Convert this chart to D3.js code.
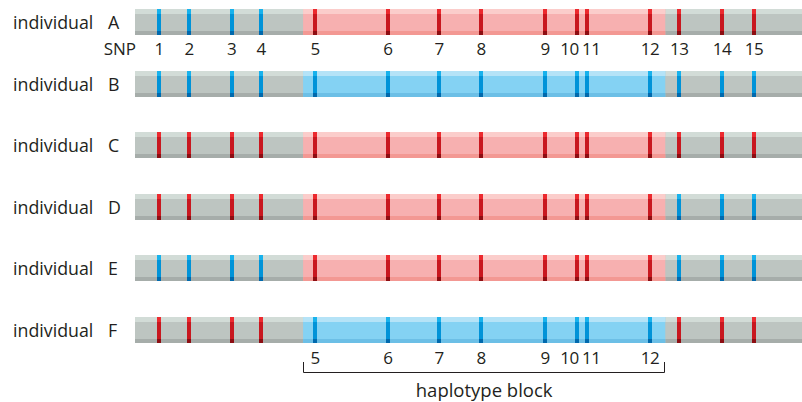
<!DOCTYPE html>
<html><head><meta charset="utf-8">
<script src="https://cdn.jsdelivr.net/npm/d3@7"></script>
<style>body{margin:0;background:#fff}svg{display:block}text{font-family:"Open Sans","Noto Sans",sans-serif;fill:#231f20}</style>
</head><body><svg id="c" width="802" height="402"></svg>
<script>
// chromosome coordinates (arbitrary units along the chromosome)
const snpNames = ["1","2","3","4","5","6","7","8","9","10","11","12","13","14","15"];
const snpPositions = [36, 81, 145, 189, 270, 379, 456, 519, 615, 662, 678, 772, 816, 880, 928];
const blockRange = [252, 795];
const blockSnps = ["5","6","7","8","9","10","11","12"];
const individuals = ["A","B","C","D","E","F"];
// allele per SNP: "b" = blue, "r" = red
const genotypes = [
  "bbbbrrrrrrrrrrr",
  "bbbbbbbbbbbbbbb",
  "rrrrrrrrrrrrrrr",
  "rrrrrrrrrrrrbbb",
  "bbbbrrrrrrrrbbb",
  "rrrrbbbbbbbbrrr"
];
const blockAllele = ["r","b","r","r","r","b"];

const svg = d3.select("#c");
const x = d3.scaleLinear().domain([0, 1000]).range([135, 802]);
const y = d3.scalePoint().domain(individuals).range([9, 317]);
const H = 26;
const FS = 17;

const pal = {
  grey: {top:"#d2dcd7", mid:"#bdc5c1", bot:"#a6adaa"},
  r: {top:"#fbcdcb", mid:"#f7b0b0", bot:"#f39893"},
  b: {top:"#b5e3f7", mid:"#84d2f3", bot:"#6cbfe6"}
};
const mark = {
  r: {top:"#ec2a2f", mid:"#c8171f", bot:"#8d0d12"},
  b: {top:"#18b2ec", mid:"#0093d8", bot:"#0069ad"}
};

function band(g, x0, x1, c){
  g.append("rect").attr("x",x0).attr("y",0).attr("width",x1-x0).attr("height",H).attr("fill",c.mid);
  g.append("rect").attr("x",x0).attr("y",0).attr("width",x1-x0).attr("height",5).attr("fill",c.top);
  g.append("rect").attr("x",x0).attr("y",H-4).attr("width",x1-x0).attr("height",4).attr("fill",c.bot);
}

individuals.forEach((ind, i) => {
  const g = svg.append("g").attr("transform", `translate(0,${Math.round(y(ind))})`);
  band(g, x(0), x(1000), pal.grey);
  band(g, x(blockRange[0]), x(blockRange[1]), pal[blockAllele[i]]);
  snpPositions.forEach((p, j) => {
    const c = mark[genotypes[i][j]];
    const mx = Math.round(x(p)) - 2;
    g.append("rect").attr("x",mx).attr("y",0).attr("width",4).attr("height",H).attr("fill",c.mid);
    g.append("rect").attr("x",mx).attr("y",0).attr("width",4).attr("height",5).attr("fill",c.top);
    g.append("rect").attr("x",mx).attr("y",H-4).attr("width",4).attr("height",4).attr("fill",c.bot);
  });
  svg.append("text").attr("x",13).attr("y",Math.round(y(ind))+20).attr("font-size",17.8).text("individual");
  svg.append("text").attr("x",108).attr("y",Math.round(y(ind))+20).attr("font-size",17.8).text(ind);
});

// nudge crowded labels (10 / 11) apart
const nudge = d => d === "10" ? -7 : d === "11" ? 4 : 0;

// SNP labels under individual A
svg.append("text").attr("x",136).attr("y",55).attr("font-size",FS).attr("text-anchor","end").text("SNP");
svg.selectAll("text.snp").data(snpNames).join("text").attr("class","snp")
  .attr("x",(d,i)=>x(snpPositions[i]) + nudge(d)).attr("y",55).attr("font-size",FS)
  .attr("text-anchor","middle").attr("letter-spacing",-0.5).text(d=>d);

// bottom labels for haplotype block
svg.selectAll("text.bsnp").data(blockSnps).join("text").attr("class","bsnp")
  .attr("x",d=>x(snpPositions[snpNames.indexOf(d)]) + nudge(d)).attr("y",364).attr("font-size",FS)
  .attr("text-anchor","middle").attr("letter-spacing",-0.5).text(d=>d);
const bx0 = x(blockRange[0]), bx1 = x(blockRange[1]);
svg.append("path").attr("d",`M${Math.round(bx0)+0.5},362V372.5H${Math.round(bx1)-0.5}V362`).attr("fill","none").attr("stroke","#231f20").attr("stroke-width",1);
svg.append("text").attr("x",(bx0+bx1)/2).attr("y",397).attr("font-size",18.5).attr("text-anchor","middle").text("haplotype block");
</script></body></html>
